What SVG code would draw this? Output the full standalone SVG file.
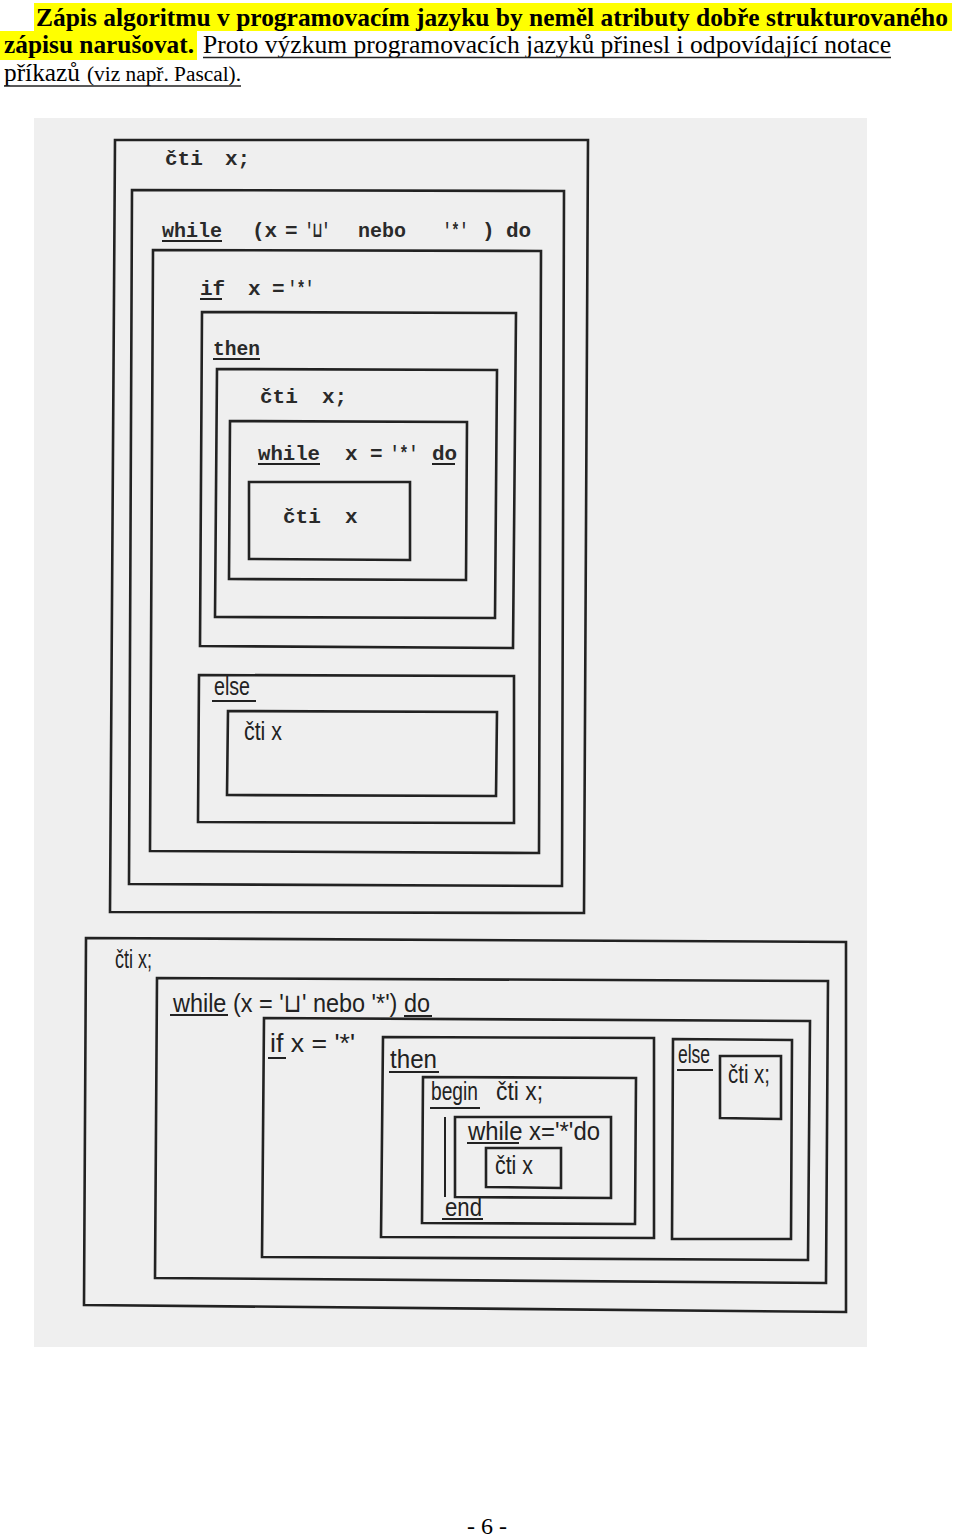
<svg xmlns="http://www.w3.org/2000/svg" width="960" height="1537" viewBox="0 0 960 1537">
<style>
.hd{font-family:"Liberation Serif","Times New Roman",serif;fill:#000}
.b{font-weight:bold}
.tw{font-family:"Liberation Mono","DejaVu Sans Mono",monospace;font-weight:bold;font-size:21px;fill:#2a2a2a}
.hw{font-family:"Liberation Sans","DejaVu Sans",sans-serif;font-size:26px;fill:#222}
.box{fill:none;stroke:#222;stroke-width:2.6;stroke-linejoin:miter}
.ul{stroke:#222;stroke-width:2;fill:none}
.hl{fill:#ffff00}
</style>
<rect width="960" height="1537" fill="#fff"/>
<g id="header">
<rect class="hl" x="34" y="3" width="918" height="28"/>
<rect class="hl" x="0" y="31" width="197" height="29"/>
<text class="hd b" x="36" y="26" font-size="25" textLength="912" lengthAdjust="spacingAndGlyphs">Zápis algoritmu v programovacím jazyku by neměl atributy dobře strukturovaného</text>
<text class="hd b" x="4" y="53" font-size="26" textLength="190" lengthAdjust="spacingAndGlyphs">zápisu narušovat.</text>
<text class="hd" x="203" y="53" font-size="26" textLength="688" lengthAdjust="spacingAndGlyphs">Proto výzkum programovacích jazyků přinesl i odpovídající notace</text>
<line x1="203" y1="57.5" x2="891" y2="57.5" stroke="#222" stroke-width="1.5"/>
<text class="hd" x="4" y="81" font-size="26" textLength="76" lengthAdjust="spacingAndGlyphs">příkazů</text>
<text class="hd" x="87" y="81" font-size="20" textLength="154" lengthAdjust="spacingAndGlyphs">(viz např. Pascal).</text>
<line x1="4" y1="86" x2="241" y2="86" stroke="#222" stroke-width="1.5"/>
</g>
<rect id="scan" x="34" y="118" width="833" height="1229" fill="#efefef"/>
<g id="top-diagram">
<g id="t-read"><path class="box" d="M115 140 L588 140 L584 913 L110 912 Z"/>
<text class="tw" x="165" y="165">čti</text><text class="tw" x="225" y="165">x;</text></g>
<g id="t-while"><path class="box" d="M132 190 L564 191 L562 886 L129 884 Z"/>
<text class="tw" x="162" y="237" textLength="60" lengthAdjust="spacingAndGlyphs">while</text><line class="ul" x1="162" y1="241" x2="222" y2="241"/>
<text class="tw" x="252" y="237">(x</text><text class="tw" x="285" y="237">=</text>
<text class="tw" x="305" y="237" textLength="25" lengthAdjust="spacingAndGlyphs">'⊔'</text>
<text class="tw" x="358" y="237" textLength="48" lengthAdjust="spacingAndGlyphs">nebo</text>
<text class="tw" x="443" y="237" textLength="25" lengthAdjust="spacingAndGlyphs">'*'</text>
<text class="tw" x="482" y="237">)</text><text class="tw" x="506" y="237">do</text></g>
<g id="t-if"><path class="box" d="M153 250 L541 251 L539 853 L150 851 Z"/>
<text class="tw" x="200" y="295">if</text><line class="ul" x1="200" y1="299" x2="222" y2="299"/>
<text class="tw" x="248" y="295">x</text><text class="tw" x="272" y="295">=</text>
<text class="tw" x="288" y="295" textLength="26" lengthAdjust="spacingAndGlyphs">'*'</text></g>
<g id="t-then"><path class="box" d="M202 312 L516 313 L513 648 L200 646 Z"/>
<text class="tw" x="213" y="355" textLength="47" lengthAdjust="spacingAndGlyphs">then</text><line class="ul" x1="213" y1="359" x2="260" y2="359"/></g>
<g id="t-read2"><path class="box" d="M217 369 L497 370 L495 618 L215 617 Z"/>
<text class="tw" x="260" y="403">čti</text><text class="tw" x="322" y="403">x;</text></g>
<g id="t-while2"><path class="box" d="M230 421 L467 422 L466 580 L229 579 Z"/>
<text class="tw" x="258" y="460" textLength="62" lengthAdjust="spacingAndGlyphs">while</text><line class="ul" x1="258" y1="464" x2="320" y2="464"/>
<text class="tw" x="345" y="460">x</text><text class="tw" x="370" y="460">=</text>
<text class="tw" x="390" y="460" textLength="28" lengthAdjust="spacingAndGlyphs">'*'</text>
<text class="tw" x="432" y="460">do</text><line class="ul" x1="432" y1="464" x2="455" y2="464"/></g>
<g id="t-read3"><path class="box" d="M249 482 L410 482 L410 560 L249 559 Z"/>
<text class="tw" x="283" y="523">čti</text><text class="tw" x="345" y="523">x</text></g>
<g id="t-else"><path class="box" d="M199 675 L514 676 L514 823 L198 822 Z"/>
<text class="hw" x="214" y="695" textLength="36" lengthAdjust="spacingAndGlyphs">else</text><line class="ul" x1="212" y1="701" x2="256" y2="701"/></g>
<g id="t-read4"><path class="box" d="M228 711 L497 712 L496 796 L227 795 Z"/>
<text class="hw" x="244" y="740" textLength="38" lengthAdjust="spacingAndGlyphs">čti x</text></g>
</g>
<g id="bottom-diagram">
<g id="b-read"><path class="box" d="M86 938 L846 942 L846 1312 L84 1305 Z"/>
<text class="hw" x="115" y="968" textLength="37" lengthAdjust="spacingAndGlyphs">čti x;</text></g>
<g id="b-while"><path class="box" d="M157 978 L828 981 L826 1283 L155 1278 Z"/>
<text class="hw" x="173" y="1012" textLength="257" lengthAdjust="spacingAndGlyphs">while (x = '⊔' nebo '*') do</text>
<line class="ul" x1="170" y1="1015" x2="228" y2="1015"/><line class="ul" x1="404" y1="1016" x2="432" y2="1016"/></g>
<g id="b-if"><path class="box" d="M264 1018 L810 1021 L808 1260 L262 1257 Z"/>
<text class="hw" x="270" y="1052" textLength="85" lengthAdjust="spacingAndGlyphs">if x = '*'</text>
<line class="ul" x1="268" y1="1058" x2="286" y2="1058"/></g>
<g id="b-then"><path class="box" d="M383 1037 L654 1038 L654 1238 L381 1237 Z"/>
<text class="hw" x="390" y="1068" textLength="47" lengthAdjust="spacingAndGlyphs">then</text>
<line class="ul" x1="389" y1="1072" x2="439" y2="1072"/></g>
<g id="b-begin"><path class="box" d="M423 1077 L636 1078 L635 1224 L422 1223 Z"/>
<text class="hw" x="431" y="1100" textLength="47" lengthAdjust="spacingAndGlyphs">begin</text>
<line class="ul" x1="430" y1="1108" x2="480" y2="1108"/>
<text class="hw" x="496" y="1100" textLength="47" lengthAdjust="spacingAndGlyphs">čti x;</text>
<line class="ul" x1="445" y1="1117" x2="445" y2="1197" stroke-width="2.6"/>
<text class="hw" x="445" y="1216" textLength="37" lengthAdjust="spacingAndGlyphs">end</text>
<line class="ul" x1="442" y1="1219" x2="483" y2="1219"/></g>
<g id="b-while2"><path class="box" d="M455 1117 L611 1117 L611 1198 L455 1197 Z"/>
<text class="hw" x="468" y="1140" textLength="132" lengthAdjust="spacingAndGlyphs">while x='*'do</text>
<line class="ul" x1="467" y1="1143" x2="519" y2="1143"/></g>
<g id="b-read2"><path class="box" d="M486 1148 L561 1148 L561 1188 L486 1187 Z"/>
<text class="hw" x="495" y="1174" textLength="38" lengthAdjust="spacingAndGlyphs">čti x</text></g>
<g id="b-else"><path class="box" d="M673 1039 L792 1040 L791 1239 L672 1239 Z"/>
<text class="hw" x="678" y="1063" textLength="32" lengthAdjust="spacingAndGlyphs">else</text>
<line class="ul" x1="677" y1="1070" x2="713" y2="1070"/></g>
<g id="b-read3"><path class="box" d="M720 1056 L781 1056 L781 1119 L720 1118 Z"/>
<text class="hw" x="728" y="1083" textLength="42" lengthAdjust="spacingAndGlyphs">čti x;</text></g>
</g>
<g id="connectors"/>
<text id="page" class="hd" x="487" y="1534" font-size="24" text-anchor="middle">- 6 -</text>
</svg>
